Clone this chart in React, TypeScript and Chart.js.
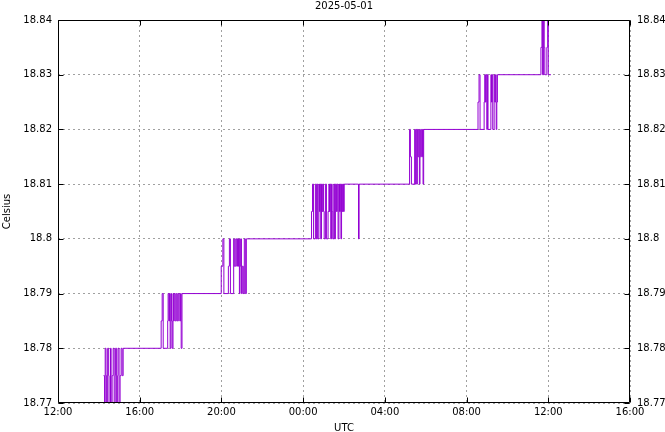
import React, { useEffect, useRef } from "react";
import { Chart, registerables } from "chart.js";

Chart.register(...registerables);

const titleText = "2025-05-01";
const xAxisLabel = "UTC";
const yAxisLabel = "Celsius";

// x axis: hours since 2025-04-30 12:00 UTC
const xTickHours = [0, 4, 8, 12, 16, 20, 24, 28];
const xTickLabels = ["12:00", "16:00", "20:00", "00:00", "04:00", "08:00", "12:00", "16:00"];

const yTickValues = [18.77, 18.78, 18.79, 18.8, 18.81, 18.82, 18.83, 18.84];
const yTickLabels = ["18.77", "18.78", "18.79", "18.8", "18.81", "18.82", "18.83", "18.84"];

// sample times (hours since 12:00 UTC) and temperatures (Celsius); held until next sample
const sampleHours = [
  2.23, 2.28, 2.31, 2.35, 2.38, 2.43, 2.48, 2.5, 2.57, 2.6, 2.65, 2.7, 2.75, 2.8, 2.82, 2.87, 2.92, 2.94, 2.99, 3.04, 3.09, 3.14, 3.19,
  5.05, 5.1, 5.15, 5.37, 5.39, 5.43, 5.46, 5.49, 5.53, 5.56, 5.59, 5.63, 5.66, 5.69, 5.74, 5.79, 5.84, 5.89, 5.96, 6.0, 6.03, 6.07,
  7.99, 8.07, 8.12, 8.34, 8.39, 8.44, 8.6, 8.63, 8.7, 8.75, 8.78, 8.81, 8.84, 8.88, 8.91, 8.94, 8.98, 9.02, 9.07, 9.12, 9.17, 9.22,
  12.41, 12.46, 12.51, 12.6, 12.65, 12.69, 12.72, 12.77, 12.8, 12.83, 12.86, 12.9, 12.93, 12.96, 13.0, 13.03, 13.09, 13.14, 13.22,
  13.26, 13.29, 13.32, 13.35, 13.39, 13.42, 13.45, 13.5, 13.54, 13.58, 13.63, 13.67, 13.71, 13.75, 13.78, 13.82, 13.85, 13.88, 13.92,
  13.95, 13.98, 14.01, 14.71, 14.74,
  17.21, 17.25, 17.3, 17.46, 17.49, 17.52, 17.56, 17.59, 17.62, 17.66, 17.69, 17.72, 17.75, 17.8, 17.84, 17.87, 17.9,
  20.56, 20.61, 20.66, 20.86, 20.89, 20.92, 20.95, 20.99, 21.02, 21.05, 21.19, 21.22, 21.25, 21.28, 21.35, 21.38, 21.42, 21.45, 21.48, 21.51,
  23.64, 23.69, 23.72, 23.77, 23.8, 23.83, 23.93, 23.97, 24.0, 24.13,
];

const sampleCelsius = [
  18.775, 18.77, 18.78, 18.775, 18.77, 18.78, 18.775, 18.77, 18.78, 18.77, 18.775, 18.78, 18.77, 18.775, 18.78, 18.77, 18.775, 18.78, 18.77, 18.775, 18.78, 18.775, 18.78,
  18.785, 18.79, 18.78, 18.785, 18.79, 18.785, 18.79, 18.78, 18.79, 18.785, 18.78, 18.79, 18.785, 18.79, 18.785, 18.79, 18.785, 18.79, 18.785, 18.79, 18.78, 18.79,
  18.795, 18.8, 18.79, 18.795, 18.8, 18.79, 18.8, 18.795, 18.8, 18.795, 18.8, 18.795, 18.8, 18.79, 18.795, 18.8, 18.79, 18.795, 18.79, 18.8, 18.79, 18.8,
  18.805, 18.81, 18.8, 18.81, 18.8, 18.81, 18.8, 18.81, 18.805, 18.81, 18.8, 18.81, 18.805, 18.81, 18.805, 18.8, 18.81, 18.8, 18.805,
  18.81, 18.805, 18.81, 18.8, 18.81, 18.805, 18.8, 18.81, 18.8, 18.81, 18.805, 18.81, 18.8, 18.81, 18.805, 18.81, 18.8, 18.81, 18.805,
  18.81, 18.805, 18.81, 18.8, 18.81,
  18.82, 18.815, 18.81, 18.82, 18.81, 18.82, 18.81, 18.82, 18.815, 18.82, 18.81, 18.815, 18.82, 18.815, 18.82, 18.81, 18.82,
  18.825, 18.83, 18.82, 18.825, 18.83, 18.825, 18.83, 18.82, 18.83, 18.82, 18.83, 18.825, 18.83, 18.82, 18.83, 18.825, 18.83, 18.82, 18.825, 18.83,
  18.835, 18.84, 18.83, 18.84, 18.835, 18.83, 18.835, 18.84, 18.83, 18.83,
];

const FONT = "DejaVu Sans";

const framePlugin = {
  id: "frame",
  afterDatasetsDraw(chart: any) {
    const { ctx, chartArea: a, scales } = chart;
    const L = Math.round(a.left) + 0.5;
    const R = Math.round(a.right) - 0.5;
    const T = Math.round(a.top) + 0.5;
    const B = Math.round(a.bottom) - 0.5;
    const tick = 5;
    ctx.save();
    ctx.strokeStyle = "#000";
    ctx.lineWidth = 1;
    ctx.setLineDash([]);
    ctx.beginPath();
    ctx.rect(L, T, R - L, B - T);
    for (const h of xTickHours) {
      const x = Math.round(scales.x.getPixelForValue(h)) + 0.5;
      ctx.moveTo(x, B);
      ctx.lineTo(x, B - tick);
      ctx.moveTo(x, T);
      ctx.lineTo(x, T + tick);
    }
    for (const v of yTickValues) {
      const y = Math.round(scales.y.getPixelForValue(v)) + 0.5;
      ctx.moveTo(L, y);
      ctx.lineTo(L + tick, y);
      ctx.moveTo(R, y);
      ctx.lineTo(R - tick, y);
    }
    ctx.stroke();
    ctx.restore();
  },
};

function labelFor(values: number[], labels: string[], v: number) {
  const i = values.findIndex((t) => Math.abs(t - v) < 1e-6);
  return i >= 0 ? labels[i] : "";
}

export default function App() {
  const ref = useRef<HTMLCanvasElement | null>(null);

  useEffect(() => {
    if (!ref.current) return;
    const points = sampleHours.map((h, i) => ({ x: h, y: sampleCelsius[i] }));
    const tickFont = { family: FONT, size: 10 };
    const chart = new Chart(ref.current, {
      type: "line",
      data: {
        datasets: [
          {
            data: points,
            borderColor: "#9400d3",
            borderWidth: 1,
            pointRadius: 0,
            stepped: "before",
            fill: false,
            yAxisID: "y",
          },
        ],
      },
      options: {
        animation: false,
        responsive: false,
        devicePixelRatio: 1,
        layout: { padding: 0 },
        plugins: {
          legend: { display: false },
          tooltip: { enabled: false },
          title: {
            display: true,
            text: titleText,
            fullSize: false,
            color: "#000",
            font: { family: FONT, size: 10, weight: "normal" },
            padding: { top: 0, bottom: 8 },
          },
        },
        scales: {
          x: {
            type: "linear",
            min: 0,
            max: 28,
            afterBuildTicks: (s: any) => {
              s.ticks = xTickHours.map((v) => ({ value: v }));
            },
            afterFit: (s: any) => {
              s.height = 29;
            },
            ticks: {
              autoSkip: false,
              maxRotation: 0,
              padding: 3,
              color: "#000",
              font: tickFont,
              callback: (v: any) => labelFor(xTickHours, xTickLabels, Number(v)),
            },
            grid: { color: "#a0a0a0", lineWidth: 1, drawTicks: false },
            border: { display: false, dash: [2, 3] },
            title: {
              display: true,
              text: xAxisLabel,
              color: "#000",
              font: { family: FONT, size: 10 },
              padding: { top: 0, bottom: -2 },
            },
          },
          y: {
            type: "linear",
            position: "left",
            min: 18.77,
            max: 18.84,
            afterBuildTicks: (s: any) => {
              s.ticks = yTickValues.map((v) => ({ value: v }));
            },
            afterFit: (s: any) => {
              s.width = 58;
            },
            ticks: {
              autoSkip: false,
              padding: 6,
              color: "#000",
              font: tickFont,
              callback: (v: any) => labelFor(yTickValues, yTickLabels, Number(v)),
            },
            grid: { color: "#a0a0a0", lineWidth: 1, drawTicks: false },
            border: { display: false, dash: [2, 3] },
            title: {
              display: true,
              text: yAxisLabel,
              color: "#000",
              font: { family: FONT, size: 10 },
              padding: { top: 1, bottom: 0 },
            },
          },
          y2: {
            type: "linear",
            position: "right",
            min: 18.77,
            max: 18.84,
            afterBuildTicks: (s: any) => {
              s.ticks = yTickValues.map((v) => ({ value: v }));
            },
            afterFit: (s: any) => {
              s.width = 35;
            },
            ticks: {
              autoSkip: false,
              padding: 7,
              color: "#000",
              font: tickFont,
              callback: (v: any) => labelFor(yTickValues, yTickLabels, Number(v)),
            },
            grid: { display: false, drawTicks: false },
            border: { display: false },
          },
        },
      },
      plugins: [framePlugin],
    } as any);
    return () => chart.destroy();
  }, []);

  return (
    <div style={{ position: "fixed", left: 0, top: 0, width: 665, height: 432, background: "#fff" }}>
      <canvas ref={ref} width={665} height={432} />
    </div>
  );
}
